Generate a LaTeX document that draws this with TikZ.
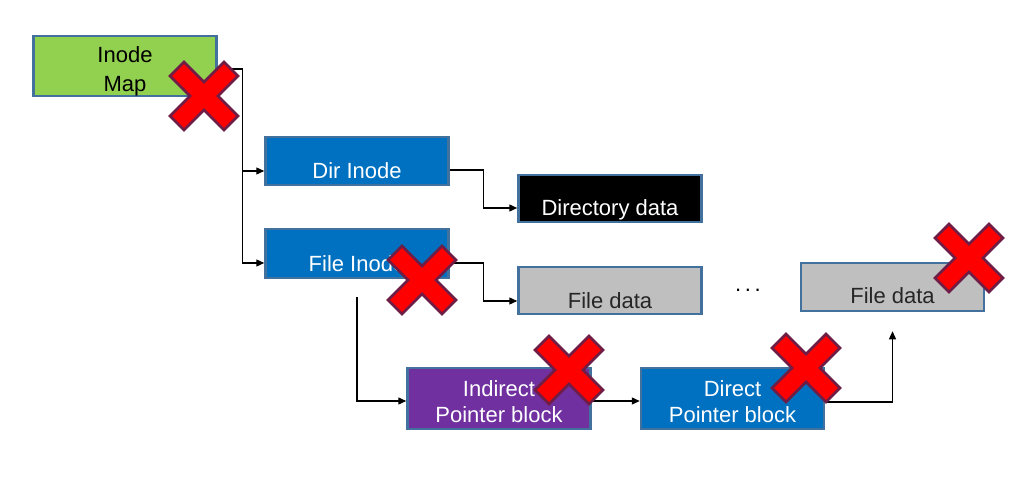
\documentclass[tikz,border=0pt]{standalone}
\usepackage{fontspec}
\setmainfont{Liberation Sans}
\usetikzlibrary{arrows.meta}
\definecolor{boxline}{HTML}{41719C}
\definecolor{mapgreen}{HTML}{92D050}
\definecolor{inodeblue}{HTML}{0070C0}
\definecolor{blockpurple}{HTML}{7030A0}
\definecolor{datagray}{HTML}{BFBFBF}
\definecolor{xborder}{RGB}{110,30,70}
\tikzset{
  blk/.style={draw=boxline, line width=2.5pt, rectangle, minimum width=183pt, inner sep=0pt},
  conn/.style={draw=black, line width=1.3pt, -{Triangle[length=8pt,width=7pt]}},
  lbl/.style={font=\fontsize{22}{26}\selectfont, text height=16pt, text depth=5pt, inner sep=0pt},
  mlbl/.style={font=\fontsize{22}{26}\selectfont, align=center},
  xmark/.style={fill=red, draw=xborder, line width=2.5pt, line join=miter},
  redx/.pic={\path[xmark] (-34,-20) -- (-20,-34) -- (0,-14) -- (20,-34) -- (34,-20) -- (14,0) -- (34,20) -- (20,34) -- (0,14) -- (-20,34) -- (-34,20) -- (-14,0) -- cycle;}
}
\begin{document}
\begin{tikzpicture}[x=1pt,y=-1pt]
\useasboundingbox (0,0) rectangle (1036,487);
% boxes
\node[blk, fill=mapgreen, minimum height=60pt,
  label={[mlbl, text=black, yshift=-5pt, execute at begin node={\baselineskip=29pt}]center:Inode\\Map}] (imap) at (125,66) {};
\node[blk, fill=inodeblue, minimum height=48pt,
  label={[lbl, text=white, yshift=-11.5pt]center:Dir Inode}] (dir) at (357,161) {};
\node[blk, fill=black, minimum height=47pt,
  label={[lbl, text=white, yshift=-11pt]center:Directory data}] (ddata) at (610,198.5) {};
\node[blk, fill=inodeblue, minimum height=49pt,
  label={[lbl, text=white, yshift=-12pt]center:File Inode}] (finode) at (357,253.5) {};
\node[blk, fill=datagray, minimum height=47pt,
  label={[lbl, text=black!85, yshift=-12pt]center:File data}] (fdata1) at (610,290.5) {};
\node[blk, fill=datagray, minimum height=48pt,
  label={[lbl, text=black!85, yshift=-10.5pt]center:File data}] (fdata2) at (892.5,287) {};
\node[blk, fill=blockpurple, minimum height=61pt,
  label={[mlbl, text=white, yshift=-3.5pt]center:Indirect\\Pointer block}] (indir) at (499,398.5) {};
\node[blk, fill=inodeblue, minimum height=61pt,
  label={[mlbl, text=white, yshift=-3.5pt]center:Direct\\Pointer block}] (direct) at (732.5,398.5) {};
\node[font=\fontsize{22}{26}\selectfont, anchor=base, inner sep=0pt] (dots) at (748,291) {.\,.\,.};
% connectors
\draw[conn] ([yshift=-3pt]imap.east) -- ++(25,0) coordinate (j1) |- ([yshift=-10pt]dir.west);
\draw[conn] (j1) |- ([yshift=-9.5pt]finode.west);
\draw[conn] ([yshift=-9pt]dir.east) -- ++(34,0) |- ([yshift=-9.5pt]ddata.west);
\draw[conn] ([yshift=-9.5pt]finode.east) -- ++(34,0) |- ([yshift=-10.5pt]fdata1.west);
\coordinate (fstart) at ([yshift=-18pt]finode.south);
\draw[conn] (fstart) |- ([yshift=-2.5pt]indir.west);
\draw[conn] ([yshift=-2.5pt]indir.east) -- ([yshift=-2.5pt]direct.west);
\coordinate (fup) at ([yshift=-19pt]fdata2.south);
\draw[conn] ([yshift=-3.5pt]direct.east) -| (fup);
% crosses
\pic at (204,96) {redx};
\pic at (422,280) {redx};
\pic at (569,370) {redx};
\pic at (806,368) {redx};
\pic at (969,258) {redx};
\end{tikzpicture}
\end{document}
